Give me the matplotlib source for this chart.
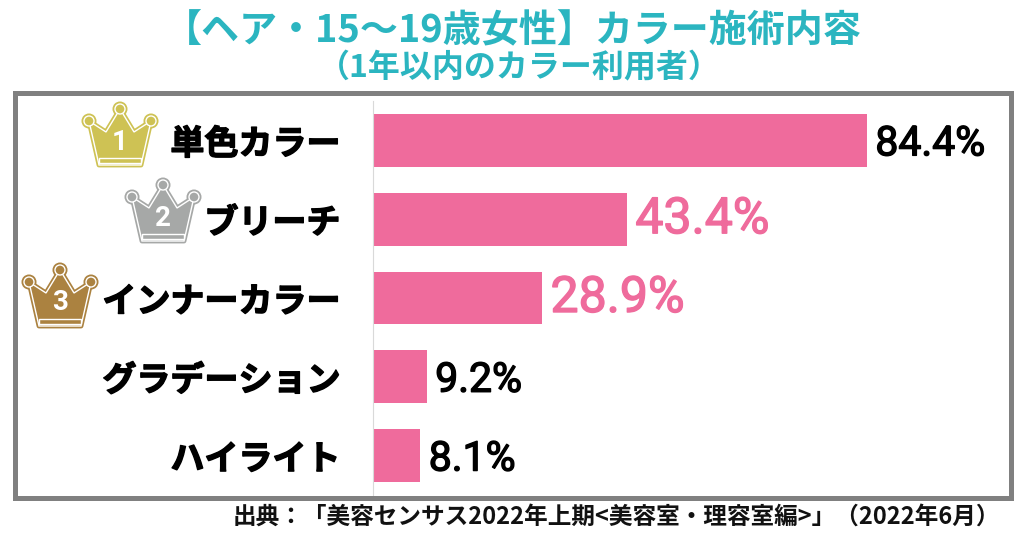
import matplotlib
matplotlib.use('Agg')
import matplotlib.pyplot as plt
import matplotlib.patheffects as pe
from matplotlib.patches import Rectangle, Polygon, Circle

plt.rcParams['font.family'] = ['Noto Sans CJK JP', 'DejaVu Sans']

categories = ['単色カラー', 'ブリーチ', 'インナーカラー', 'グラデーション', 'ハイライト']
values = [84.4, 43.4, 28.9, 9.2, 8.1]
value_colors = ['black', '#EF6B9C', '#EF6B9C', 'black', 'black']
crown_ranks = ['1', '2', '3']
crown_colors = ['#CEC254', '#A6A8A7', '#AB8240']
crown_centers = [(120, 103), (163, 179), (60, 264)]

W, H = 1024, 538
fig = plt.figure(figsize=(W / 100, H / 100), dpi=100)

# axes in pixel positions of the picture
ax = fig.add_axes([373 / W, 1 - 495 / H, (1008 - 373) / W, (495 - 101) / H])
ax.barh(range(len(values)), values, height=0.67, color='#EF6B9C')
ax.set_xlim(0, (1008 - 373) / 5.853)
ax.set_ylim(len(values) - 0.5, -0.5)
for s in ['top', 'right', 'bottom']:
    ax.spines[s].set_visible(False)
ax.spines['left'].set_color('#D9D9D9')
ax.spines['left'].set_linewidth(0.8)
ax.set_xticks([])
ax.set_yticks(range(len(values)))
ax.set_yticklabels(categories, fontsize=24.5, fontweight='bold',
                   path_effects=[pe.withStroke(linewidth=1, foreground='black')])
ax.tick_params(axis='y', length=0, pad=23.5)

for i, v in enumerate(values):
    pink = value_colors[i] != 'black'
    ax.annotate(f'{v}%', (v, i), xytext=(6, 0 if pink else -2.5), textcoords='offset points',
                va='center', ha='left', color=value_colors[i], fontsize=36 if pink else 29.5,
                family=['Roboto', 'DejaVu Sans'],
                path_effects=[pe.withStroke(linewidth=1, foreground=value_colors[i])])

# overlay in pixel coords for frame and crowns
ov = fig.add_axes([0, 0, 1, 1], zorder=5)
ov.set_xlim(0, W)
ov.set_ylim(H, 0)
ov.axis('off')
ov.patch.set_alpha(0)
ov.add_patch(Rectangle((14.5, 92.5), 996, 405, fill=False, ec='#808080', lw=3.6))


def draw_crown(cx, top, color, rank):
    pts = [(-31, 18), (-14, 29), (0, 6), (14, 29), (31, 18), (21, 62), (-21, 62)]
    body = [(cx + x, top + y) for x, y in pts]
    ov.add_patch(Polygon(body, fc=color, ec=color, lw=3.5, joinstyle='round'))
    for x, y in [(-31, 18), (0, 6), (31, 18)]:
        ov.add_patch(Circle((cx + x, top + y), 7.5, fc=color, ec='none'))
    ov.add_patch(Polygon(body, fc=color, ec='white', lw=1))
    for x, y in [(-31, 18), (0, 6), (31, 18)]:
        ov.add_patch(Circle((cx + x, top + y), 5, fc=color, ec='white', lw=1))
    ov.add_patch(Rectangle((cx - 21, top + 55), 42, 5, fc=color, ec='white', lw=1))
    ov.text(cx, top + 39, rank, color='white', fontsize=20, fontweight='bold',
            ha='center', va='center', family='Roboto')


for c, col, r in zip(crown_centers, crown_colors, crown_ranks):
    draw_crown(c[0], c[1], col, r)

fig.text(513 / W, 1 - 31 / H, '【ヘア・15～19歳女性】カラー施術内容', color='#2BB5C0',
         fontsize=27.4, fontweight='bold', ha='center', va='center')
fig.text(519 / W, 1 - 68 / H, '（1年以内のカラー利用者）', color='#2BB5C0',
         fontsize=23, fontweight='bold', ha='center', va='center')
fig.text(1000 / W, 1 - 517 / H, '出典：「美容センサス2022年上期<美容室・理容室編>」（2022年6月）',
         color='#111111', fontsize=17, fontweight='bold', ha='right', va='center')

fig.savefig('out.png', dpi=100)
